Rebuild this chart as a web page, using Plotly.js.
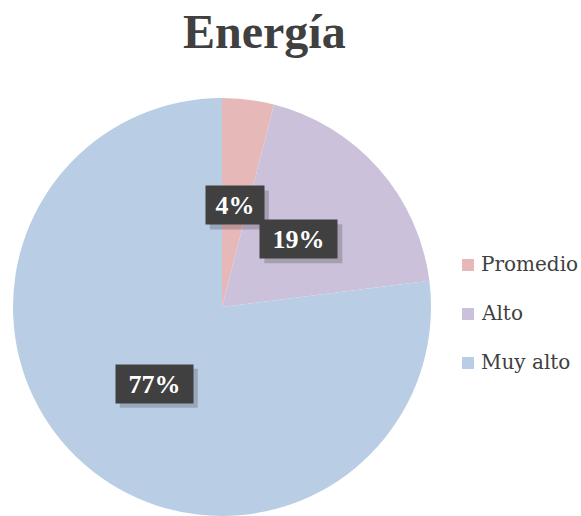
<!DOCTYPE html>
<html><head><meta charset="utf-8">
<script src="https://cdn.plot.ly/plotly-3.0.1.min.js"></script>
<style>html,body{margin:0;padding:0;background:#fff}</style>
</head><body><div id="chart" style="width:581px;height:516px"></div>
<script>
const categories = ["Promedio", "Alto", "Muy alto"];
const values = [4, 19, 77];
const colors = ["#E6B9B8", "#CCC1DA", "#B9CDE5"];
const chartTitle = "Energía";

const W = 581, H = 516;
const pieLeft = 12, pieRight = 432, pieTop = 98, pieBottom = 516;
const cxPx = (pieLeft + pieRight) / 2;
const cyPx = (pieTop + pieBottom) / 2;
const R = Math.min(pieRight - pieLeft, pieBottom - pieTop) / 2;
const labelR = 0.49 * R;

const total = values.reduce((a, b) => a + b, 0);
const annotations = [];
const shapes = [];
let cum = 0;
values.forEach((v, i) => {
  const mid = (cum + v / 2) / total * 2 * Math.PI;
  cum += v;
  const px = cxPx + labelR * Math.sin(mid);
  const py = cyPx - labelR * Math.cos(mid);
  const pct = Math.round(v / total * 100) + "%";
  const x = px / W, y = 1 - py / H;
  const halfW = 10 + pct.length * 9.5, halfH = 19;
  shapes.push({type: "rect", xref: "paper", yref: "paper", xsizemode: "pixel", ysizemode: "pixel",
    xanchor: x, yanchor: y, x0: -halfW + 4, x1: halfW + 5, y0: -halfH - 5, y1: halfH - 4,
    fillcolor: "rgba(0,0,0,0.18)", line: {width: 0}, layer: "above"});
  annotations.push({text: "<b>" + pct + "</b>", x: x, y: y, xref: "paper", yref: "paper",
    xanchor: "center", yanchor: "middle", showarrow: false,
    font: {family: "Liberation Serif", size: 26, color: "#ffffff"},
    bgcolor: "#404040", borderpad: 4, width: 2 * halfW - 8, height: 2 * halfH - 8});
});

// manual legend
const legendTop = 265, legendGap = 49;
categories.forEach((c, i) => {
  const cy = legendTop + i * legendGap;
  shapes.push({type: "rect", xref: "paper", yref: "paper",
    x0: 462 / W, x1: 474 / W, y0: 1 - (cy + 6) / H, y1: 1 - (cy - 6) / H,
    fillcolor: colors[i], line: {width: 0}});
  annotations.push({text: c, x: 479 / W, y: 1 - (cy - 1) / H, xref: "paper", yref: "paper",
    xanchor: "left", yanchor: "middle", showarrow: false,
    font: {family: "DejaVu Serif", size: 20, color: "#404040"}});
});

const data = [{
  type: "pie", labels: categories, values: values, sort: false, direction: "clockwise", rotation: 0,
  marker: {colors: colors, line: {width: 0}}, textinfo: "none", hoverinfo: "none",
  domain: {x: [pieLeft / W, pieRight / W], y: [1 - pieBottom / H, 1 - pieTop / H]}
}];

const layout = {
  width: W, height: H, margin: {l: 0, r: 0, t: 0, b: 0},
  paper_bgcolor: "#ffffff", showlegend: false,
  title: {text: "<b>" + chartTitle + "</b>", x: 0.455, xanchor: "center", y: 1 - 31 / H, yanchor: "middle",
    font: {family: "Liberation Serif", size: 48, color: "#404040"}},
  annotations: annotations, shapes: shapes
};
Plotly.newPlot("chart", data, layout, {displayModeBar: false, staticPlot: true});
</script></body></html>
